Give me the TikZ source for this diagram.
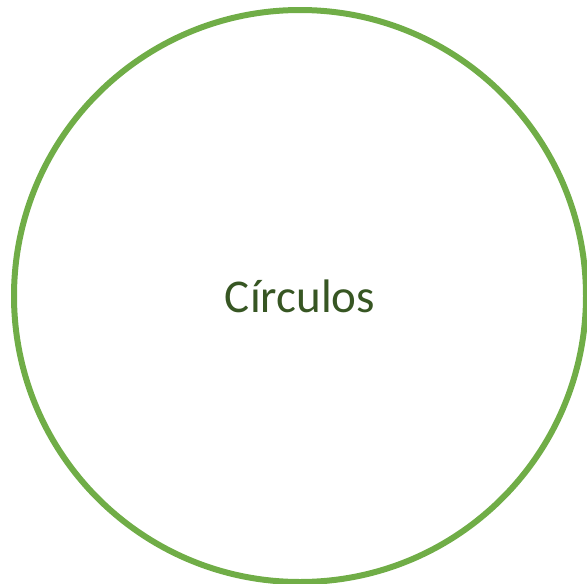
\documentclass[tikz,border=0pt]{standalone}
\usepackage{fontspec}
\setmainfont{Carlito}
\definecolor{ringgreen}{HTML}{70AD47}
\definecolor{labelgreen}{HTML}{375623}
\begin{document}
\begin{tikzpicture}[x=1pt, y=-1pt]
    % Canvas (same size as the reference, y runs downward)
    \useasboundingbox (0,0) rectangle (587,584);

    % Big ring
    \draw[ringgreen, line width=6pt] (300,296) circle (286);

    % Title in the middle
    \node[text=labelgreen, font=\fontsize{47}{56}\selectfont] (title) at (300,296) {Círculos};
\end{tikzpicture}
\end{document}
